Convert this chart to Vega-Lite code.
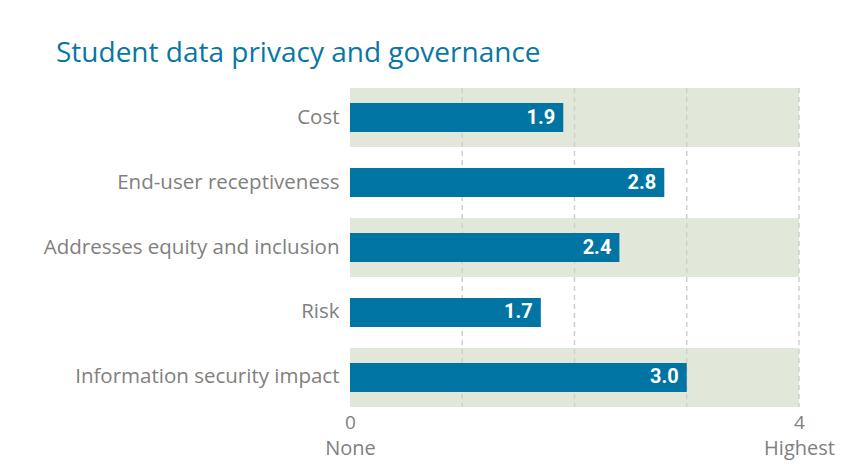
{
  "$schema": "https://vega.github.io/schema/vega-lite/v6.json",
  "width": 449,
  "height": 319,
  "autosize": "none",
  "padding": {"left": 350, "top": 88, "right": 59, "bottom": 67},
  "background": "white",
  "title": {
    "text": "Student data privacy and governance",
    "anchor": "start",
    "frame": "group",
    "dx": -294,
    "offset": 19,
    "fontSize": 28,
    "font": "Open Sans",
    "fontWeight": "normal",
    "color": "#0a76a3"
  },
  "data": {
    "values": [
      {"criterion": "Cost", "score": 1.9},
      {"criterion": "End-user receptiveness", "score": 2.8},
      {"criterion": "Addresses equity and inclusion", "score": 2.4},
      {"criterion": "Risk", "score": 1.7},
      {"criterion": "Information security impact", "score": 3.0}
    ]
  },
  "resolve": {"axis": {"x": "independent"}},
  "layer": [
    {
      "transform": [
        {"filter": {"field": "criterion", "oneOf": ["Cost", "Addresses equity and inclusion", "Information security impact"]}}
      ],
      "mark": {"type": "bar", "color": "#e1e8d9"},
      "encoding": {
        "y": {"field": "criterion", "type": "nominal", "sort": null, "scale": {"domain": ["Cost", "End-user receptiveness", "Addresses equity and inclusion", "Risk", "Information security impact"], "paddingInner": 0.092, "paddingOuter": 0}},
        "x": {
          "datum": 4,
          "type": "quantitative",
          "scale": {"domain": [0, 4], "nice": false},
          "axis": {
            "orient": "bottom",
            "values": [0, 4],
            "labelPadding": 6,
            "labelFontSize": 19
          }
        }
      }
    },
    {
      "data": {"values": [{"g": 1}, {"g": 2}, {"g": 3}, {"g": 4}]},
      "mark": {"type": "rule", "color": "#cfcfcf", "strokeWidth": 1.5, "strokeDash": [5, 4]},
      "encoding": {
        "x": {
          "field": "g",
          "type": "quantitative",
          "axis": {
            "orient": "bottom",
            "values": [0, 4],
            "labelExpr": "datum.value == 0 ? 'None' : 'Highest'",
            "labelPadding": 31
          }
        }
      }
    },
    {
      "mark": {"type": "bar", "color": "#0074a2", "height": {"band": 0.49}},
      "encoding": {
        "y": {"field": "criterion", "type": "nominal", "sort": null},
        "x": {"field": "score", "type": "quantitative", "axis": null}
      }
    },
    {
      "mark": {"type": "text", "align": "right", "dx": -8, "color": "white", "fontWeight": "bold", "fontSize": 20, "font": "Roboto"},
      "encoding": {
        "y": {"field": "criterion", "type": "nominal", "sort": null},
        "x": {"field": "score", "type": "quantitative", "axis": null},
        "text": {"field": "score", "type": "quantitative", "format": ".1f"}
      }
    }
  ],
  "config": {
    "view": {"stroke": null},
    "axisY": {
      "title": null,
      "ticks": false,
      "domain": false,
      "grid": false,
      "labelFont": "Open Sans",
      "labelFontSize": 20.5,
      "labelColor": "#808080",
      "labelPadding": 11,
      "labelLimit": 400
    },
    "axisX": {
      "title": null,
      "ticks": false,
      "domain": false,
      "grid": false,
      "labelFont": "Open Sans",
      "labelFontSize": 20,
      "labelColor": "#808080",
      "labelFlush": false
    }
  }
}
